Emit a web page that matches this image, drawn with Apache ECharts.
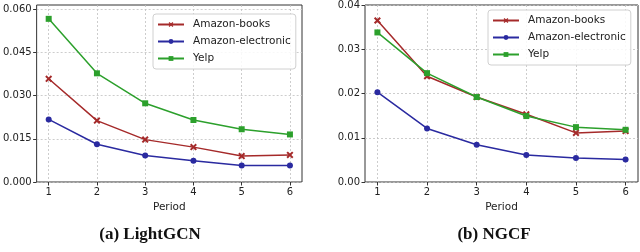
<!DOCTYPE html>
<html><head><meta charset="utf-8">
<script src="https://cdn.jsdelivr.net/npm/echarts@6/dist/echarts.min.js"></script>
<style>html,body{margin:0;padding:0;background:#fff}#c{width:640px;height:252px}</style>
</head><body><div id="c"></div>
<script>
const periods = [1, 2, 3, 4, 5, 6];
const seriesNames = ['Amazon-books', 'Amazon-electronic', 'Yelp'];
// (a) LightGCN
const lgBooks = [0.0358, 0.0213, 0.0147, 0.0121, 0.0090, 0.0094];
const lgElec  = [0.0217, 0.0131, 0.0092, 0.0074, 0.0057, 0.0057];
const lgYelp  = [0.0566, 0.0377, 0.0273, 0.0215, 0.0183, 0.0165];
// (b) NGCF
const ngBooks = [0.0365, 0.0239, 0.0192, 0.0153, 0.0111, 0.0115];
const ngElec  = [0.0203, 0.0121, 0.0084, 0.0061, 0.0054, 0.0051];
const ngYelp  = [0.0338, 0.0246, 0.0192, 0.0149, 0.0124, 0.0118];
const lgTicks = [0, 0.015, 0.03, 0.045, 0.06];
const ngTicks = [0, 0.01, 0.02, 0.03, 0.04];
const captions = ['(a) LightGCN', '(b) NGCF'];

const colors = ['#a52a2a', '#2a2aa0', '#2ca02c'];
const xSym = 'path://M2,0L5,3L8,0L10,2L7,5L10,8L8,10L5,7L2,10L0,8L3,5L0,2Z';
const symbols = [xSym, 'circle', 'rect'];
const symSizes = [7, 6, 6];

function pair(vals) { return periods.map((p, i) => [p, vals[i]]); }

const grids = [
  {left: 34, top: 5, width: 268, height: 177},
  {left: 365, top: 5, width: 273, height: 177}
];

function xAxis(gi) {
  return {
    type: 'value', gridIndex: gi, min: 0.75, max: 6.25,
    name: 'Period', nameLocation: 'middle', nameGap: 19,
    nameTextStyle: {fontFamily: 'DejaVu Sans', fontSize: 10.5, color: '#222'},
    axisLine: {show: false},
    axisTick: {show: true, inside: false, length: 3.5, lineStyle: {color: '#333', width: 1}, customValues: periods},
    axisLabel: {fontFamily: 'DejaVu Sans', fontSize: 10, color: '#222', margin: 5, customValues: periods},
    splitLine: {show: true, lineStyle: {color: '#c0c0c0', type: [2, 2], width: 0.8}}
  };
}
function yAxis(gi, max, ticks, dec) {
  return {
    type: 'value', gridIndex: gi, min: 0, max: max,
    axisLine: {show: false},
    axisTick: {show: true, inside: false, length: 3.5, lineStyle: {color: '#333', width: 1}, customValues: ticks},
    axisLabel: {fontFamily: 'DejaVu Sans', fontSize: 10, color: '#222', margin: 5, customValues: ticks,
      formatter: v => v.toFixed(dec)},
    splitLine: {show: true, lineStyle: {color: '#c0c0c0', type: [2, 2], width: 0.8}}
  };
}

const data = [[lgBooks, lgElec, lgYelp], [ngBooks, ngElec, ngYelp]];
const series = [];
data.forEach((set, gi) => {
  set.forEach((vals, si) => {
    series.push({
      name: seriesNames[si], type: 'line', xAxisIndex: gi, yAxisIndex: gi,
      data: pair(vals), symbol: symbols[si], symbolSize: symSizes[si], showSymbol: true,
      lineStyle: {color: colors[si], width: 1.5},
      itemStyle: {color: colors[si], borderWidth: 0},
      emphasis: {disabled: true}, animation: false, z: 3 + si
    });
  });
});

function legend(left, top) {
  return {
    orient: 'vertical', left: left, top: top, data: seriesNames,
    itemWidth: 26, itemHeight: 6, itemGap: 6, padding: [5, 5, 5, 4],
    backgroundColor: 'rgba(255,255,255,0.85)', borderColor: '#d0d0d0', borderWidth: 1, borderRadius: 3,
    textStyle: {fontFamily: 'DejaVu Sans', fontSize: 10.5, lineHeight: 6, color: '#222', padding: [0, 0, 0, 4]},
    selectedMode: false
  };
}

const chart = echarts.init(document.getElementById('c'), null, {renderer: 'canvas'});
chart.setOption({
  animation: false,
  backgroundColor: '#fff',
  grid: grids.map(g => Object.assign({show: true, borderColor: '#333', borderWidth: 1, backgroundColor: 'transparent'}, g)),
  xAxis: [xAxis(0), xAxis(1)],
  yAxis: [yAxis(0, 0.0614, lgTicks, 3), yAxis(1, 0.04, ngTicks, 2)],
  legend: [legend(153, 14), legend(488, 10)],
  title: [
    {text: captions[0], left: 145, top: 221, textAlign: 'center',
     textStyle: {fontFamily: 'Liberation Serif', fontWeight: 'bold', fontSize: 17, color: '#111'}},
    {text: captions[1], left: 489, top: 221, textAlign: 'center',
     textStyle: {fontFamily: 'Liberation Serif', fontWeight: 'bold', fontSize: 17, color: '#111'}}
  ],
  series: series
});
</script></body></html>
